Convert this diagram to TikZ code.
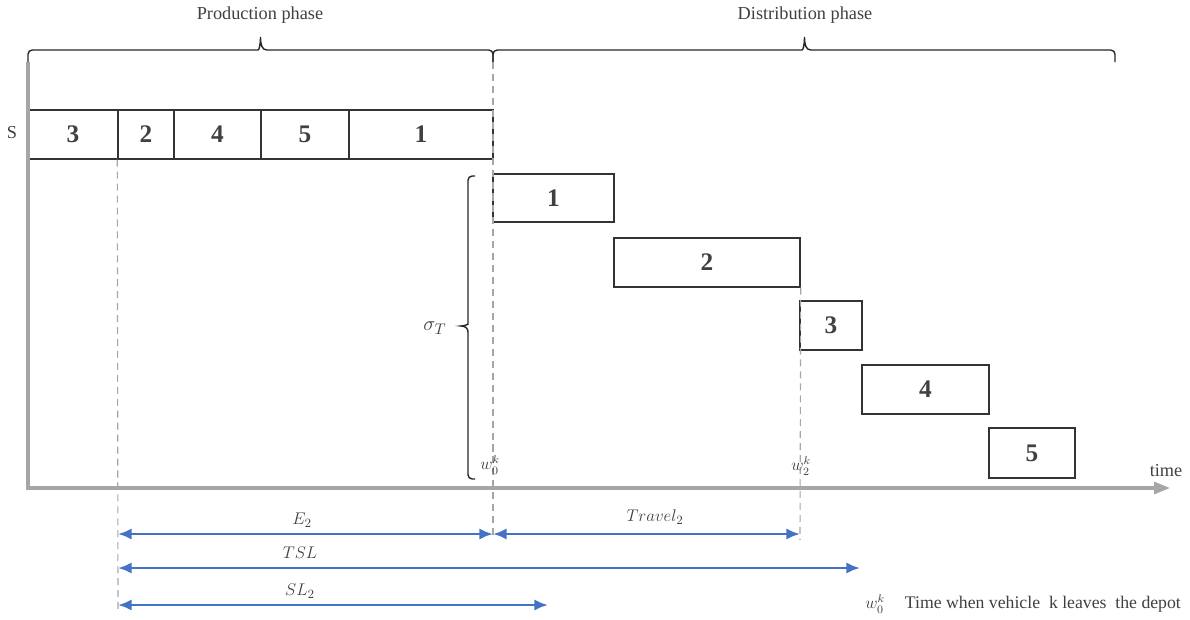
\documentclass[tikz,border=0pt]{standalone}
\usepackage{fontspec}
\setmainfont{Liberation Serif}
\usetikzlibrary{arrows.meta}

\definecolor{axisgray}{HTML}{A6A6A6}
\definecolor{dimblue}{HTML}{4472C4}
\definecolor{ink}{HTML}{404040}

\tikzset{
  lbl/.style={font=\fontsize{13}{15}\selectfont, text=ink},
  ticklbl/.style={font=\fontsize{12}{14}\selectfont, text=ink},
  job/.style={draw=black!80, line width=1pt, inner sep=0pt, minimum height=49*0.025cm,
    font=\fontsize{18}{20}\selectfont\bfseries, text=ink},
  guide/.style={axisgray, line width=0.8pt, dash pattern=on 5pt off 3.5pt},
  span/.style={dimblue, line width=1.8pt, {Latex[length=0.34cm,width=0.28cm]}-{Latex[length=0.34cm,width=0.28cm]}},
  bracket/.style={black!85, line width=1pt},
}

\begin{document}
\begin{tikzpicture}[x=0.025cm, y=-0.025cm]
  \useasboundingbox (0,0) rectangle (1190,619);

  % production sequence S
  \node[lbl] (S) at (12,133) {S};
  \foreach \a/\b/\lab in {28/118/3, 118/174/2, 174/261/4, 261/349/5, 349/493/1}
    \node[job, minimum width={(\b-\a)*0.025cm}] (s\lab) at ({(\a+\b)/2},134.5) {\lab};

  % delivery trips
  \foreach \a/\b/\c/\d/\lab in {493/614/174/222/1, 614/800/238/287/2, 800/862/301/350/3,
                                862/989/365/414/4, 989/1075/428/478/5}
    \node[job, minimum width={(\b-\a)*0.025cm}, minimum height={(\d-\c)*0.025cm}]
      (d\lab) at ({(\a+\b)/2},{(\c+\d)/2}) {\lab};

  % axes
  \coordinate (ytop) at (28,62);
  \coordinate (origin) at (28,488);
  \coordinate (xend) at (1170,488);
  \draw[axisgray, line width=2.2pt, -{Triangle[length=0.4cm,width=0.3cm]}] (ytop) -- (origin) -- (xend);
  \node[lbl] (time) at (1166,471) {time};

  % phases
  \coordinate (p1) at (493,62);
  \draw[bracket] (28,62) [rounded corners=3pt] -- (28,50) -- (254,50) [sharp corners]
    .. controls (259,50) and (260.5,45) .. (260.5,37)
    .. controls (260.5,45) and (262,50) .. (267,50) [rounded corners=3pt] -- (493,50) -- (p1);
  \draw[bracket] (p1) [rounded corners=3pt] -- (493,50) -- (798,50) [sharp corners]
    .. controls (803,50) and (804.5,45) .. (804.5,37)
    .. controls (804.5,45) and (806,50) .. (811,50) [rounded corners=3pt] -- (1115,50) -- (1115,62);
  \node[lbl] (prod) at (260,15) {Production phase};
  \node[lbl] (dist) at (805,15) {Distribution phase};

  % trip brace
  \draw[bracket] (475,176) [rounded corners=3pt] -- (468,176) -- (468,320) [sharp corners]
    .. controls (468,324) and (465,326) .. (461,326)
    .. controls (465,326) and (468,328) .. (468,332) [rounded corners=3pt] -- (468,479) -- (475,479);
  \node[font=\fontsize{15}{17}\selectfont, text=ink] (sigma) at (435,328) {$\sigma_T$};

  % guide lines
  \coordinate (g1) at (118,610);
  \coordinate (g2) at (493,537);
  \coordinate (g3) at (800,540);
  \draw[guide] (s2.south west) -- (g1);
  \draw[guide] (p1) -- (g2);
  \draw[guide] (d2.south east) -- (g3);
  \node[ticklbl] (w0) at (490,465) {$w_0^k$};
  \node[ticklbl] (w2) at (801,466) {$w_2^k$};

  % time spans
  \coordinate (e0) at (118,534);
  \coordinate (e1) at (493,534);
  \coordinate (e2) at (800,534);
  \coordinate (t0) at (118,568);
  \coordinate (t1) at (860,568);
  \coordinate (l0) at (118,605);
  \coordinate (l1) at (548,605);
  \draw[span] (e0) -- (e1);
  \draw[span] (e1) -- (e2);
  \draw[span] (t0) -- (t1);
  \draw[span] (l0) -- (l1);
  \node[lbl] (E) at (302,520) {$E_2$};
  \node[lbl] (travel) at (655,517) {$Travel_2$};
  \node[lbl] (TSL) at (300,553) {$TSL$};
  \node[lbl] (SL) at (300,591) {$SL_2$};

  % legend
  \node[ticklbl] (wkey) at (875,604) {$w_0^k$};
  \node[lbl, font=\fontsize{12.6}{15}\selectfont, anchor=west] (legend) at (900,604)
    {Time when vehicle\ \ k leaves\ \ the depot};
\end{tikzpicture}
\end{document}
